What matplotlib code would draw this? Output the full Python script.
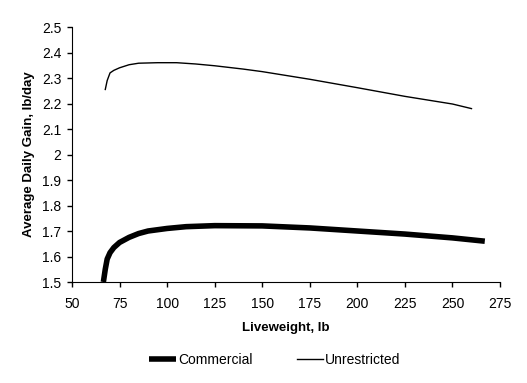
import matplotlib
matplotlib.use("Agg")
import matplotlib.pyplot as plt

plt.rcParams['font.family'] = ['Liberation Sans', 'DejaVu Sans']

# Data
unres_x = [67.5, 68.5, 70, 72, 75, 80, 85, 95, 105, 115, 125, 140, 150, 175, 200, 225, 250, 260]
unres_y = [2.255, 2.29, 2.32, 2.33, 2.34, 2.352, 2.358, 2.36, 2.36, 2.355, 2.348, 2.335, 2.325, 2.295, 2.262, 2.228, 2.198, 2.18]

comm_x = [66.5, 67.5, 68.5, 70, 72, 75, 80, 85, 90, 100, 110, 125, 150, 175, 200, 225, 250, 267]
comm_y = [1.5, 1.55, 1.59, 1.615, 1.635, 1.655, 1.675, 1.69, 1.70, 1.71, 1.717, 1.721, 1.72, 1.712, 1.70, 1.688, 1.673, 1.66]

xticks = [50, 75, 100, 125, 150, 175, 200, 225, 250, 275]
yticks = [1.5, 1.6, 1.7, 1.8, 1.9, 2.0, 2.1, 2.2, 2.3, 2.4, 2.5]
ytick_labels = ['1.5', '1.6', '1.7', '1.8', '1.9', '2', '2.1', '2.2', '2.3', '2.4', '2.5']

fig = plt.figure(figsize=(5.27, 3.83), dpi=100)
ax = fig.add_axes([0.1366, 0.2637, 0.8122, 0.6658])

l1, = ax.plot(comm_x, comm_y, color='black', linewidth=4, solid_capstyle='butt', label='Commercial')
l2, = ax.plot(unres_x, unres_y, color='black', linewidth=1, label='Unrestricted')

ax.set_xlim(50, 275)
ax.set_ylim(1.5, 2.5)
ax.set_xticks(xticks)
ax.set_yticks(yticks)
ax.set_yticklabels(ytick_labels)
ax.spines['top'].set_visible(False)
ax.spines['right'].set_visible(False)
ax.tick_params(direction='out', length=3.6, width=1, labelsize=10)
ax.tick_params(axis='x', pad=7)
ax.tick_params(axis='y', pad=4)
ax.set_xlabel('Liveweight, lb', fontsize=9.5, fontweight='bold', labelpad=8)
ax.set_ylabel('Average Daily Gain, lb/day', fontsize=9.5, fontweight='bold', labelpad=5)

fig.legend(handles=[l1, l2], loc='center', bbox_to_anchor=(0.522, 0.06), ncol=2,
           frameon=False, fontsize=10, handlelength=1.9, handletextpad=0.15, columnspacing=3.2)

fig.savefig('out.png', dpi=100)
